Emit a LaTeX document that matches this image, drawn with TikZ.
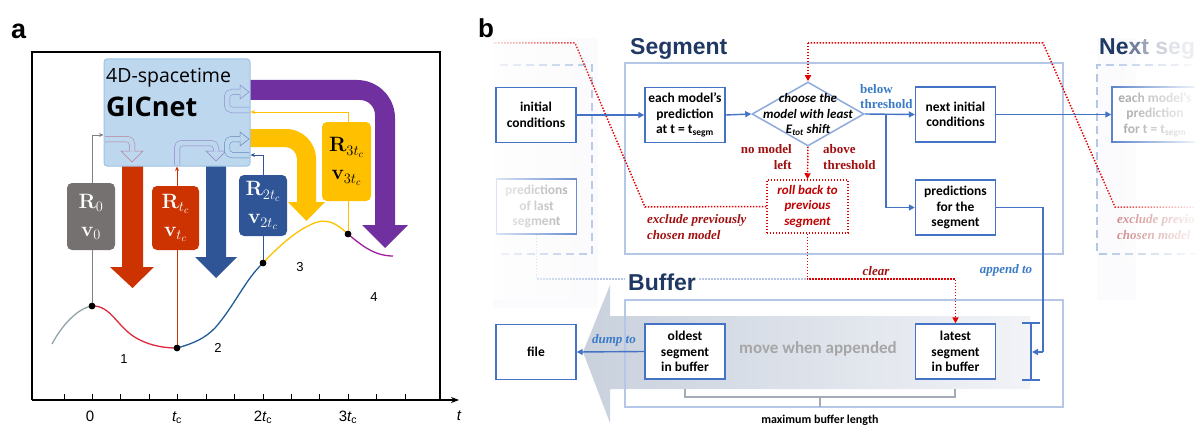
\documentclass[tikz,border=0pt]{standalone}
\usepackage[no-math]{fontspec}
\setmainfont{Carlito}
\newfontfamily\arialf{Liberation Sans}
\newfontfamily\timesf{Liberation Serif}
\newfontfamily\opensf{Open Sans}
\usetikzlibrary{shapes.geometric,arrows.meta,fadings}

% colours
\definecolor{gicfill}{HTML}{BDD7EE}
\definecolor{gicdraw}{HTML}{9DC3E6}
\definecolor{cgray}{HTML}{767171}
\definecolor{cred}{HTML}{CC3300}
\definecolor{cblue}{HTML}{2F5597}
\definecolor{cyel}{HTML}{FFC000}
\definecolor{cpurp}{HTML}{7030A0}
\definecolor{kgray}{HTML}{8FA3A8}
\definecolor{kred}{HTML}{E0283C}
\definecolor{kblue}{HTML}{1F5C99}
\definecolor{kpurp}{HTML}{A020A0}
\definecolor{bblue}{HTML}{4472C4}
\definecolor{lblue}{HTML}{B4C7E7}
\definecolor{dblue}{HTML}{8FAADC}
\definecolor{navy}{HTML}{203864}
\definecolor{dotred}{HTML}{E00000}
\definecolor{txtred}{HTML}{A01010}
\definecolor{rbred}{HTML}{C00000}
\definecolor{lblbl}{HTML}{3A7BC8}
\definecolor{movegray}{HTML}{A6A6A6}
\definecolor{bufL}{HTML}{C9D1DD}
\definecolor{bufR}{HTML}{F1F3F7}
\definecolor{bracegray}{HTML}{A3ABB8}
\definecolor{haze}{HTML}{FBFBFD}

\tikzfading[name=fadeleft, left color=transparent!12, right color=transparent!100]
\tikzfading[name=faderight, left color=transparent!100, right color=transparent!8]

\newcommand{\bxfont}{\fontsize{13.5}{15.5}\selectfont\bfseries}
\newcommand{\lbfont}{\timesf\bfseries\fontsize{13}{15.5}\selectfont}
\newcommand{\axfont}{\arialf\fontsize{15}{15}\selectfont}

\tikzset{
  flowbox/.style={draw=bblue, line width=1.4pt, fill=white, minimum width=80pt,
    minimum height=55pt, inner sep=1pt, align=center, font=\bxfont},
  rvbox/.style={rounded corners=5pt, align=center, inner sep=0pt,
    font=\fontsize{20}{28}\selectfont},
  flowline/.style={draw=bblue, line width=1.4pt},
  flowarrow/.style={flowline, -{Triangle[length=6pt,width=6pt]}},
  redpath/.style={draw=dotred, line width=1.5pt, dash pattern=on 1.4pt off 1.6pt},
  redarrow/.style={redpath, -{Triangle[length=6pt,width=6pt]}},
  framebox/.style={draw=lblue, line width=1.5pt},
  dashframe/.style={draw=lblue, line width=1.5pt, dash pattern=on 8pt off 5pt},
  bluelab/.style={font=\lbfont, text=lblbl, inner sep=0pt},
  redlab/.style={font=\lbfont, text=txtred, inner sep=0pt},
  dot/.style={circle, fill=black, inner sep=0pt, minimum size=6.5pt},
  thin arrow/.style={line width=0.9pt, -{Stealth[length=4.5pt,width=4pt]}},
  ghost/.style={line width=0.5pt, double=gicfill, double distance=5pt,
    rounded corners=5pt},
  ghosthead/.style={line width=0.5pt, line join=miter},
  curve/.style={line width=1.3pt},
  title/.style={font=\arialf\bfseries\fontsize{23}{23}\selectfont, inner sep=0pt, anchor=base west}
}

\begin{document}
\begin{tikzpicture}[x=1pt,y=-1pt]
\useasboundingbox (0,0) rectangle (1195,428);

% =================== panel a ===================
\node[anchor=base west, inner sep=0pt, font=\arialf\bfseries\fontsize{27}{27}\selectfont] (la) at (11,39) {a};

% plot frame and time axis
\draw[line width=1.3pt] (32,400) -- (32,52) -- (440,52) -- (440,400);
\draw[line width=1.3pt, -{Stealth[length=8pt,width=6pt]}] (32,400) -- (459,400);
\foreach \x in {64,92,120,149,177,206,234,263,291,319,348,376,405}
  \draw[line width=1pt] (\x,400) -- (\x,394);
\node[font=\axfont, anchor=base, inner sep=0pt] (t0) at (90,421) {0};
\node[font=\axfont, anchor=base, inner sep=0pt] (t1) at (177,421) {\itshape t\textsubscript{\upshape c}};
\node[font=\axfont, anchor=base, inner sep=0pt] (t2) at (263,421) {2\itshape t\textsubscript{\upshape c}};
\node[font=\axfont, anchor=base, inner sep=0pt] (t3) at (348,421) {3\itshape t\textsubscript{\upshape c}};
\node[font=\axfont, anchor=base, inner sep=0pt] (tt) at (459,420) {\itshape t};

% broad propagation arrows
\fill[cred] (122,160) -- (143,160) -- (143,267) -- (154,267) -- (132.5,288) -- (110,267) -- (122,267) -- cycle;
\fill[cblue] (206,160) -- (226,160) -- (226,257) -- (237,257) -- (216,278) -- (195,257) -- (206,257) -- cycle;
\fill[cyel] (240,129) -- (286,129) .. controls (302.6,129) and (316,142.4) .. (316,159)
  -- (316,202) -- (325,202) -- (306.5,221) -- (288,202) -- (297,202) -- (297,159)
  .. controls (297,152.4) and (291.6,147) .. (285,147) -- (240,147) -- cycle;
\fill[cpurp] (240,80) -- (357,80) .. controls (378,80) and (395,97) .. (395,118)
  -- (395,225) -- (408,225) -- (385,248) -- (362,225) -- (375,225) -- (375,115)
  .. controls (375,106.7) and (368.3,100) .. (360,100) -- (240,100) -- cycle;

% trajectory
\draw[curve, kgray] (52,344) .. controls (62,325) and (78,308) .. (92,306);
\draw[curve, kred] (92,306) .. controls (112,305) and (118,330) .. (140,340)
  .. controls (152,346) and (165,348) .. (177,348);
\draw[curve, kblue] (177,348) .. controls (195,343) and (205,338) .. (215,328)
  .. controls (235,305) and (245,280) .. (263,263);
\draw[curve, cyel] (263,263) .. controls (280,245) and (295,232) .. (310,225)
  .. controls (325,217) and (335,222) .. (348,234);
\draw[curve, kpurp] (348,234) .. controls (362,246) and (375,256) .. (393,256);

\node[dot] (d0) at (92,306) {};
\node[dot] (d1) at (177,348) {};
\node[dot] (d2) at (263,263) {};
\node[dot] (d3) at (348,234) {};

% network box
\node[draw=gicdraw, fill=gicfill, rounded corners=3pt, line width=1pt,
  minimum width=146pt, minimum height=107pt, inner sep=0pt] (gic) at (177,112.5) {};
\coordinate (e0) at (100,135);
\coordinate (e2) at (260,155);
\coordinate (e3) at (260,112);

% state read-outs fed back to the network
\draw[thin arrow, gray] (d0.center) |- (gic.west |- e0);
\draw[thin arrow, cred] (d1.center) -- (d1.center |- gic.south);
\draw[thin arrow, cblue] (d2.center) |- (gic.east |- e2);
\draw[thin arrow, cyel] (d3.center) |- (gic.east |- e3);
\node[dot] at (d0) {};
\node[dot] at (d1) {};
\node[dot] at (d2) {};
\node[dot] at (d3) {};

% faint internal arrows
\draw[ghost, draw=kred!45!gicdraw] (105,139) -- (132,139) -- (132,151);
\draw[ghosthead, draw=kred!45!gicdraw] (129,151) -- (121,151) -- (132,162) -- (143,151) -- (135,151);
\draw[ghost, draw=violet!35!gicdraw] (177,165) -- (177,143) -- (216,143) -- (216,151);
\draw[ghosthead, draw=violet!35!gicdraw] (213,151) -- (206,151) -- (216,161) -- (226,151) -- (219,151);
\draw[ghost, draw=cblue!55!gicdraw] (249,155) -- (227,155) -- (227,139) -- (240,139);
\draw[ghosthead, draw=cblue!55!gicdraw] (240,136) -- (240,132) -- (249,139) -- (240,146) -- (240,142);
\draw[ghost, draw=cpurp!40!gicdraw] (249,110) -- (227,110) -- (227,92) -- (240,92);
\draw[ghosthead, draw=cpurp!40!gicdraw] (240,89) -- (240,85) -- (249,92) -- (240,99) -- (240,95);

\node[anchor=base west, inner sep=0pt, font=\opensf\fontsize{19.5}{20}\selectfont] (gic1) at (106,83) {4D-spacetime};
\node[anchor=base west, inner sep=0pt, font=\opensf\bfseries\fontsize{27}{27}\selectfont] (gic2) at (106,117) {GICnet};

% state boxes
\node[rvbox, fill=cgray, text=white, minimum width=48pt, minimum height=67pt] (b0) at (91,216.5) {$\mathbf{R}_0$\\$\mathbf{v}_0$};
\node[rvbox, fill=cred, text=white, minimum width=47pt, minimum height=64pt] (b1) at (175.5,218) {$\mathbf{R}_{t_c}$\\$\mathbf{v}_{t_c}$};
\node[rvbox, fill=cblue, text=white, minimum width=48pt, minimum height=61pt] (b2) at (263,205.5) {$\mathbf{R}_{2t_c}$\\$\mathbf{v}_{2t_c}$};
\node[rvbox, fill=cyel, text=black, minimum width=49pt, minimum height=79pt] (b3) at (346.5,161.5) {$\mathbf{R}_{3t_c}$\\$\mathbf{v}_{3t_c}$};

% segment numbers
\node[font=\arialf\fontsize{13}{13}\selectfont, inner sep=0pt] (n1) at (124,359) {1};
\node[font=\arialf\fontsize{13}{13}\selectfont, inner sep=0pt] (n2) at (218,348) {2};
\node[font=\arialf\fontsize{13}{13}\selectfont, inner sep=0pt] (n3) at (300,267) {3};
\node[font=\arialf\fontsize{13}{13}\selectfont, inner sep=0pt] (n4) at (374,297) {4};

% =================== panel b ===================
\fill[haze] (493,38) rectangle (598,308);
\fill[haze] (1097,38) rectangle (1136,300);

% buffer shift arrow
\shade[left color=bufL, right color=bufR] (583,352) -- (610,285) -- (610,316) -- (1030,316)
  -- (1030,389) -- (610,389) -- (610,423) -- cycle;

% frames
\draw[framebox] (625,63) rectangle (1063,254);
\draw[framebox] (625,300) rectangle (1063,407);
\draw[dashframe] (500,65) -- (592,65) -- (592,254) -- (500,254);
\draw[dashframe] (1205,65) -- (1097,65) -- (1097,254) -- (1205,254);

% nodes of the previous / next segment and the rollback box
\node[flowbox, text=gray!75] (pls) at (536.5,206.5) {predictions\\of last\\segment};
\node[flowbox, minimum width=86pt, text=gray!85] (nxt) at (1155,114.5) {each model's\\prediction\\for t = t\textsubscript{segm}};
\node[draw=dotred, line width=1.5pt, dash pattern=on 1.4pt off 1.6pt, fill=white,
  minimum width=81pt, minimum height=53pt, inner sep=1pt, align=center,
  font=\fontsize{13}{15.5}\selectfont\bfseries\itshape, text=rbred] (rb) at (807.5,206.5)
  {roll back to\\previous\\segment};
\node[diamond, draw=dblue, line width=1.5pt, fill=white, minimum width=112pt,
  minimum height=64pt, inner sep=0pt] (dia) at (808,114) {};
\node[font=\fontsize{13}{15.5}\selectfont\bfseries\itshape, align=center, inner sep=0pt] (diat) at (808,114.5)
  {choose the\\model with least\\E\textsubscript{tot} shift};

\coordinate (clr) at (807,279);
\coordinate (xl) at (645,207);
\coordinate (xu) at (575,43);
\coordinate (xe) at (493,43);
\coordinate (yr) at (1200,207);
\coordinate (yl) at (1115,207);
\coordinate (yu) at (1043,43);
\coordinate (yt) at (808,43);

% rollback paths
\draw[redpath] (rb.west) -- (xl) -- (xu) -- (xe);
\draw[lblue, line width=1.5pt, dash pattern=on 1.4pt off 1.6pt] (pls.south) |- (clr);
\draw[redpath] (yr) -- (yl) -- (yu) -- (yt);
\draw[redarrow] (yt) -- (dia.north);
\begin{scope}
  \clip (1090,30) rectangle (1195,262);
  \node[redlab, align=left, anchor=west, text=txtred!60] (ex2) at (1117,227) {\itshape exclude previously\\\itshape chosen model};
  \node[title] (tnext) at (1099,55) {\textcolor{navy}{Ne}\textcolor{navy!65}{x}\textcolor{navy!45}{t}\ \textcolor{navy!22}{s}\textcolor{navy!14}{e}\textcolor{navy!9}{g}\textcolor{navy!5}{ment}};
\end{scope}

% fade the neighbouring segments
\fill[white, path fading=fadeleft] (486,36) rectangle (602,300);
\fill[white, path fading=faderight] (1098,62) rectangle (1195,262);

\node[anchor=base west, inner sep=0pt, font=\arialf\bfseries\fontsize{26}{26}\selectfont] (lb) at (478,38) {b};

% titles
\node[title, text=navy] (tseg) at (630,55) {Segment};
\node[title, fill=white, inner xsep=3pt, inner ysep=2pt] (tbuf) at (625,290) {\textcolor{navy}{Buffer}};

% main flow
\node[flowbox] (ic) at (536,115) {initial\\conditions};
\node[flowbox] (emp) at (685,115) {each model's\\prediction\\at t = t\textsubscript{segm}};
\node[flowbox] (nic) at (955.5,114.5) {next initial\\conditions};
\node[flowbox] (pfs) at (955.5,207.5) {predictions\\for the\\segment};
\node[flowbox] (old) at (685,351.5) {oldest\\segment\\in buffer};
\node[flowbox] (lat) at (955.5,351.5) {latest\\segment\\in buffer};
\node[flowbox] (file) at (536,352) {file};

\coordinate (br) at (886,114);
\coordinate (apc) at (1043,352);
\coordinate (ib) at (1032,352);

\draw[flowarrow] (ic.east) -- (emp.west);
\draw[flowarrow] (emp.east) -- (dia.west);
\draw[flowarrow] (dia.east) -- (nic.west);
\draw[flowarrow] (br) |- (pfs.west);
\draw[flowarrow] (nic.east) -- (nxt.west);
\draw[flowarrow] (old.west) -- (file.east);
\draw[flowline] (pfs.east) -| (apc);
\draw[flowarrow] (apc) -- (ib);
\draw[redarrow] (dia.south) -- (rb.north);
\draw[redarrow] (rb.south) |- (clr) -| (lat.north);

% buffer length marker
\draw[bblue, line width=1.5pt] (1022,323) -- (1040,323) (1031,323) -- (1031,380) (1022,380) -- (1040,380);
\draw[bracegray, line width=1.3pt] (685,389) -- (685,397) -- (955,397) -- (955,389) (820,397) -- (820,407);

% labels
\node[bluelab, align=left, anchor=west] (lbelow) at (860,96.5) {below\\threshold};
\node[redlab, align=right, anchor=east] (lnoml) at (792,157) {no model\\left};
\node[redlab, align=left, anchor=west] (labove) at (823,157) {above\\threshold};
\node[redlab, align=left, anchor=west] (lexcl) at (647,227) {\itshape exclude previously\\\itshape chosen model};
\node[redlab] (lclr) at (876,271) {\itshape clear};
\node[bluelab] (lapp) at (1006,270) {\itshape append to};
\node[bluelab] (ldump) at (614,340) {\itshape dump to};
\node[font=\fontsize{17}{17}\selectfont\bfseries, text=movegray, inner sep=0pt] (lmove) at (818,349) {move when appended};
\node[font=\fontsize{12}{12}\selectfont\bfseries, inner sep=0pt] (lmax) at (820,420) {maximum buffer length};
\end{tikzpicture}
\end{document}
